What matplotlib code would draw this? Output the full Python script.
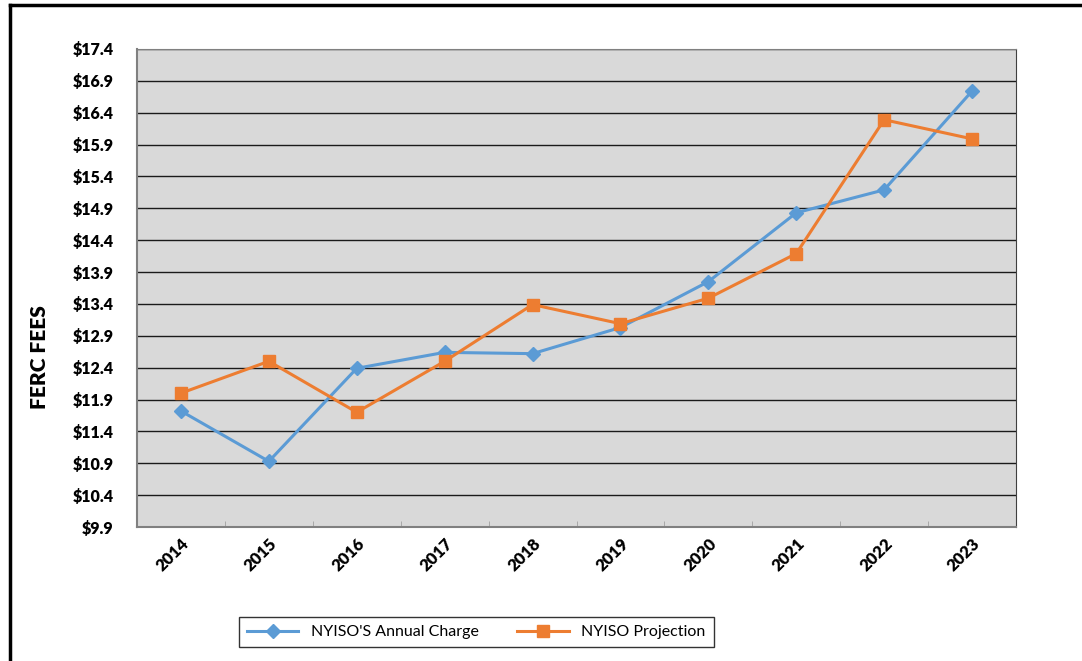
import matplotlib
matplotlib.use("Agg")
import matplotlib.pyplot as plt
import numpy as np

years = ["2014", "2015", "2016", "2017", "2018", "2019", "2020", "2021", "2022", "2023"]
annual_charge = [11.72, 10.93, 12.39, 12.64, 12.62, 13.03, 13.75, 14.83, 15.19, 16.74]
projection = [12.00, 12.50, 11.70, 12.50, 13.39, 13.09, 13.49, 14.19, 16.29, 15.99]
yticks = [9.9 + 0.5 * i for i in range(16)]

plt.rcParams['font.family'] = ['Lato', 'DejaVu Sans']

W, H = 1082, 661
fig = plt.figure(figsize=(W / 100, H / 100), dpi=100)
ax = fig.add_axes([137 / W, 1 - 527 / H, (1016 - 137) / W, (527 - 49) / H])

x = np.arange(len(years))
ax.plot(x, annual_charge, color='#5b9bd5', lw=2.2, marker='D', ms=7, label="NYISO'S Annual Charge", zorder=3)
ax.plot(x, projection, color='#ed7d31', lw=2.2, marker='s', ms=8, label="NYISO Projection", zorder=3)

ax.set_facecolor('#d9d9d9')
ax.set_xlim(-0.5, len(years) - 0.5)
ax.set_ylim(9.9, 17.4)
ax.set_yticks(yticks)
ax.set_yticklabels([f"${v:.1f}" for v in yticks], fontsize=11.5, fontweight='heavy')
ax.yaxis.grid(True, color='#1a1a1a', lw=1.0)
ax.set_axisbelow(True)
ax.tick_params(axis='y', length=0, pad=17)
ax.set_xticks(x)
ax.set_xticklabels(years, rotation=45, ha='right', va='top', rotation_mode='anchor',
                   fontsize=12, fontweight='heavy')
ax.tick_params(axis='x', length=0, pad=6)
ax.set_xticks(np.arange(len(years) + 1) - 0.5, minor=True)
ax.tick_params(axis='x', which='minor', direction='in', length=4, color='#a0a0a0')
for s in ['left', 'bottom']:
    ax.spines[s].set_color('#808080')
    ax.spines[s].set_linewidth(1.5)
ax.spines['right'].set_color('#404040')
ax.spines['top'].set_color('#808080')

fig.text(39 / W, 1 - 357 / H, "FERC FEES", rotation=90, ha='center', va='center',
         fontsize=15, fontweight='heavy')

leg = fig.legend(loc='center', bbox_to_anchor=((242 + 711) / 2 / W, 1 - 632 / H), ncol=2,
                 frameon=True, fancybox=False, edgecolor='black', fontsize=11.5,
                 handlelength=3.2, columnspacing=2.4, borderpad=0.5)
leg.get_frame().set_linewidth(1.0)

# outer border (left and top visible)
fig.add_artist(plt.Line2D([10 / W, 10 / W], [0, 1 - 5 / H], color='black', lw=2.5, transform=fig.transFigure))
fig.add_artist(plt.Line2D([10 / W, 1], [1 - 5 / H, 1 - 5 / H], color='black', lw=2.5, transform=fig.transFigure))

fig.savefig("out.png", dpi=100)
